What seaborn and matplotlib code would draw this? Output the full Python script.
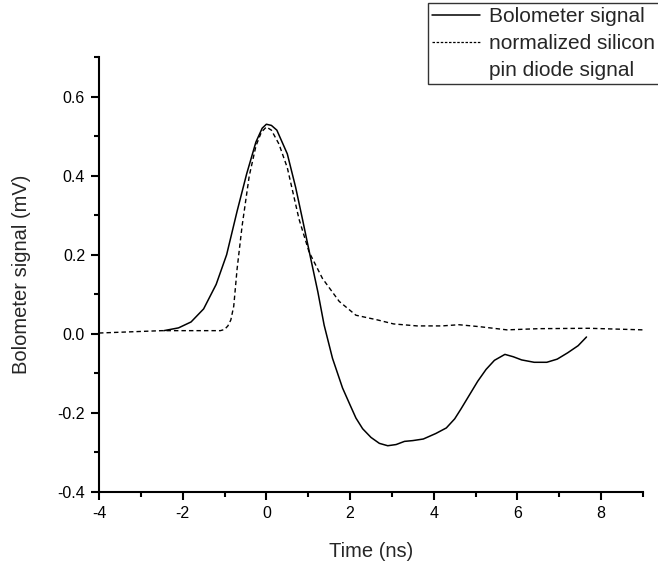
import matplotlib
matplotlib.use("Agg")
import matplotlib.pyplot as plt
from matplotlib.lines import Line2D
from matplotlib.ticker import MultipleLocator
import seaborn as sns
import pandas as pd

# Bolometer signal (solid)
t_bolo = [-2.45, -2.1, -1.8, -1.5, -1.2, -0.95, -0.7, -0.47, -0.25, -0.1, 0.0,
          0.12, 0.25, 0.5, 0.7, 0.86, 1.06, 1.23, 1.38, 1.58, 1.82, 2.0, 2.14,
          2.3, 2.5, 2.7, 2.9, 3.1, 3.3, 3.5, 3.75, 4.05, 4.3, 4.5, 4.65, 4.85,
          5.05, 5.25, 5.45, 5.7, 5.9, 6.1, 6.4, 6.7, 6.95, 7.2, 7.45, 7.65]
v_bolo = [0.008, 0.015, 0.03, 0.063, 0.125, 0.2, 0.31, 0.405, 0.485, 0.52, 0.53,
          0.527, 0.515, 0.455, 0.37, 0.291, 0.19, 0.106, 0.022, -0.062, -0.137,
          -0.18, -0.213, -0.24, -0.262, -0.277, -0.283, -0.28, -0.272, -0.27,
          -0.266, -0.252, -0.238, -0.215, -0.19, -0.155, -0.12, -0.09, -0.067,
          -0.052, -0.058, -0.066, -0.072, -0.072, -0.064, -0.048, -0.03, -0.008]

# Normalized silicon pin diode signal (dashed)
t_diode = [-4.0, -3.5, -3.0, -2.5, -2.0, -1.5, -1.1, -1.0, -0.92, -0.85, -0.78,
           -0.7, -0.58, -0.41, -0.25, -0.12, 0.0, 0.12, 0.3, 0.5, 0.78, 1.02,
           1.34, 1.74, 2.14, 2.66, 3.04, 3.6, 4.2, 4.6, 5.1, 5.75, 6.5, 7.7, 9.0]
v_diode = [0.002, 0.004, 0.006, 0.008, 0.008, 0.008, 0.008, 0.011, 0.02, 0.035,
           0.07, 0.164, 0.273, 0.399, 0.475, 0.51, 0.523, 0.515, 0.48, 0.42,
           0.29, 0.207, 0.14, 0.082, 0.047, 0.035, 0.025, 0.02, 0.02, 0.023,
           0.018, 0.01, 0.013, 0.014, 0.01]

label_bolo = "Bolometer signal"
label_diode_1 = "normalized silicon"
label_diode_2 = "pin diode signal"

sns.set_style("ticks")
plt.rcParams['font.family'] = ['Liberation Sans', 'DejaVu Sans']

df_b = pd.DataFrame({"t": t_bolo, "v": v_bolo})
df_d = pd.DataFrame({"t": t_diode, "v": v_diode})

fig = plt.figure(figsize=(6.58, 5.65), dpi=100)
ax = fig.add_axes([99/658, 73/565, (643-99)/658, (492-57)/565])

sns.lineplot(data=df_b, x="t", y="v", ax=ax, color="black", linewidth=1.1,
             sort=False, estimator=None)
sns.lineplot(data=df_d, x="t", y="v", ax=ax, color="black", linewidth=1.0,
             sort=False, estimator=None, linestyle=(0, (3.2, 2.2)))

ax.set_xlim(-4, 9)
ax.set_ylim(-0.4, 0.7)
ax.xaxis.set_minor_locator(MultipleLocator(1))
ax.yaxis.set_minor_locator(MultipleLocator(0.1))
ax.set_yticks([-0.4, -0.2, 0.0, 0.2, 0.4, 0.6])
ax.set_yticklabels(["-0.4", "-0.2", "0.0", "0.2", "0.4", "0.6"])
ax.set_xticks([-4, -2, 0, 2, 4, 6, 8])
ax.set_xticklabels(["-4", "-2", "0", "2", "4", "6", "8"])

for s in ["top", "right"]:
    ax.spines[s].set_visible(False)
for s in ["left", "bottom"]:
    ax.spines[s].set_linewidth(1.5)
    ax.spines[s].set_color("black")
ax.tick_params(which="major", direction="out", length=6, width=1.5,
               labelsize=11.5, colors="black", pad=4)
ax.tick_params(which="minor", direction="out", length=3.5, width=1.5,
               colors="black")

ax.set_xlabel("Time (ns)", fontsize=14.5, labelpad=15)
ax.set_ylabel("Bolometer signal (mV)", fontsize=14.5, labelpad=19)

handles = [Line2D([], [], color="black", linewidth=1.1),
           Line2D([], [], color="black", linewidth=0.9, linestyle=(0, (2, 1.3))),
           Line2D([], [], color="none")]
leg = fig.legend(handles, [label_bolo, label_diode_1, label_diode_2],
                 loc="upper left", bbox_to_anchor=(428/658, 1 - 3/565),
                 frameon=True, fancybox=False, edgecolor="black",
                 fontsize=15, handlelength=2.3, handletextpad=0.43,
                 labelspacing=0.38, borderpad=0.2, borderaxespad=0)
leg.get_frame().set_linewidth(1.0)

fig.savefig("out.png", dpi=100)
